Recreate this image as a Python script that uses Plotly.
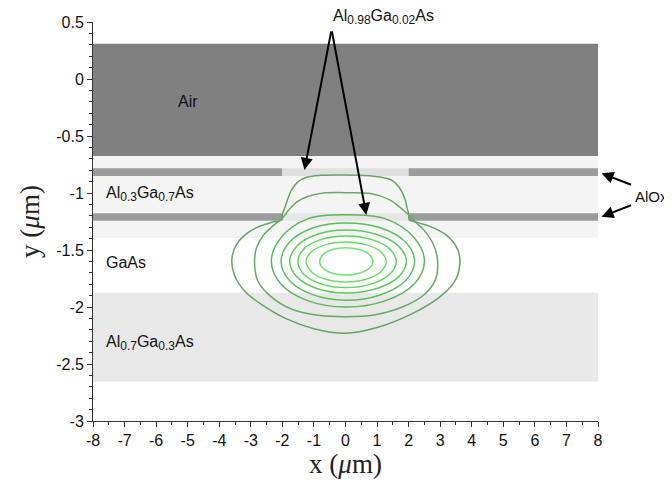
import plotly.graph_objects as go

# ---------------- data ----------------
# axis ticks
x_tick_vals = [-8, -7, -6, -5, -4, -3, -2, -1, 0, 1, 2, 3, 4, 5, 6, 7, 8]
x_tick_text = ["-8", "-7", "-6", "-5", "-4", "-3", "-2", "-1", "0", "1", "2", "3", "4", "5", "6", "7", "8"]
y_tick_vals = [0.5, 0, -0.5, -1, -1.5, -2, -2.5, -3]
y_tick_text = ["0.5", "0", "-0.5", "-1", "-1.5", "-2", "-2.5", "-3"]

# layer structure (x0, x1, y0, y1)
layer_names = ["cladding", "Air", "AlOx top L", "Al0.98 top", "AlOx top R",
               "AlOx bot L", "Al0.98 bot", "AlOx bot R", "Al0.7Ga0.3As"]
layer_x0 = [-8, -8, -8, -2, 2, -8, -2, 2, -8]
layer_x1 = [8, 8, -2, 2, 8, -2, 2, 8, 8]
layer_y0 = [-1.395, -0.675, -0.850, -0.850, -0.850, -1.243, -1.243, -1.243, -2.655]
layer_y1 = [-0.675, 0.310, -0.783, -0.783, -0.783, -1.178, -1.178, -1.178, -1.874]

# mode-field contour lines (outer -> inner)
c1_x = [0, -0.8, -1.2, -1.5, -1.72, -1.85, -1.95, -2.0, -2.02, -2.3, -2.7, -3.1, -3.45, -3.6,
        -3.52, -3.2, -2.7, -1.9, -1.0, 0, 1.0, 2.1, 2.95, 3.45, 3.62, 3.56, 3.2, 2.6, 2.1,
        2.02, 2.0, 1.95, 1.88, 1.7, 1.45, 1.1, 0.6, 0]
c1_y = [-0.842, -0.845, -0.86, -0.90, -0.98, -1.07, -1.15, -1.185, -1.235, -1.255, -1.29, -1.35,
        -1.45, -1.58, -1.72, -1.86, -1.97, -2.10, -2.19, -2.23, -2.18, -2.06, -1.92, -1.78, -1.63,
        -1.50, -1.37, -1.285, -1.245, -1.235, -1.185, -1.13, -1.05, -0.95, -0.885, -0.86, -0.846, -0.842]

c2_x = [0, -0.7, -1.2, -1.55, -1.8, -2.0, -2.3, -2.6, -2.82, -2.88, -2.78, -2.4, -1.7, -0.8, 0,
        0.9, 1.8, 2.5, 2.85, 2.92, 2.8, 2.5, 2.2, 1.95, 1.7, 1.4, 0.8, 0]
c2_y = [-0.997, -1.0, -1.03, -1.08, -1.15, -1.22, -1.29, -1.37, -1.48, -1.62, -1.77, -1.90, -2.02,
        -2.075, -2.085, -2.07, -2.0, -1.89, -1.76, -1.60, -1.46, -1.33, -1.25, -1.18, -1.12, -1.06,
        -1.005, -0.997]

c3_x = [0, -1.18, -2.04, -2.35, -2.04, -1.18, 0, 1.25, 2.17, 2.5, 2.17, 1.25, 0]
c3_y = [-1.19, -1.225, -1.39, -1.60, -1.80, -1.946, -2.00, -1.946, -1.80, -1.60, -1.39, -1.225, -1.19]

c4_x = [0, -1.02, -1.77, -2.04, -1.77, -1.02, 0, 1.1, 1.9, 2.19, 1.9, 1.1, 0]
c4_y = [-1.263, -1.305, -1.43, -1.60, -1.77, -1.894, -1.94, -1.894, -1.77, -1.60, -1.43, -1.305, -1.263]

c5_x = [0, -0.885, -1.53, -1.77, -1.53, -0.885, 0, 0.965, 1.67, 1.93, 1.67, 0.965, 0]
c5_y = [-1.325, -1.362, -1.462, -1.60, -1.738, -1.84, -1.877, -1.84, -1.738, -1.60, -1.462, -1.362, -1.325]

c6_x = [0, -0.755, -1.31, -1.51, -1.31, -0.755, 0, 0.805, 1.39, 1.61, 1.39, 0.805, 0]
c6_y = [-1.377, -1.407, -1.488, -1.60, -1.715, -1.799, -1.83, -1.799, -1.715, -1.60, -1.488, -1.407, -1.377]

c7_x = [0, -0.625, -1.08, -1.25, -1.08, -0.625, 0, 0.645, 1.12, 1.29, 1.12, 0.645, 0]
c7_y = [-1.43, -1.453, -1.515, -1.60, -1.69, -1.756, -1.78, -1.756, -1.69, -1.60, -1.515, -1.453, -1.43]

c8_x = [0, -0.41, -0.71, -0.82, -0.71, -0.41, 0, 0.435, 0.753, 0.87, 0.753, 0.435, 0]
c8_y = [-1.48, -1.496, -1.54, -1.60, -1.66, -1.704, -1.72, -1.704, -1.66, -1.60, -1.54, -1.496, -1.48]

# ---------------- styles ----------------
layer_colors = ["#f4f4f4", "#808080", "#9b9b9b", "#e0e0e0", "#9b9b9b",
                "#9b9b9b", "#e6e6e6", "#9b9b9b", "#e8e8e8"]
contour_colors = ["rgb(100,165,100)", "rgb(100,172,100)", "rgb(92,182,92)", "rgb(88,192,88)",
                  "rgb(92,202,92)", "rgb(98,212,98)", "rgb(104,222,104)", "rgb(112,228,112)"]

fig = go.Figure()

for x0, x1, y0, y1, col in zip(layer_x0, layer_x1, layer_y0, layer_y1, layer_colors):
    fig.add_shape(type="rect", xref="x", yref="y", x0=x0, x1=x1, y0=y0, y1=y1,
                  fillcolor=col, line=dict(width=0), layer="below")

contours = [(c1_x, c1_y), (c2_x, c2_y), (c3_x, c3_y), (c4_x, c4_y),
            (c5_x, c5_y), (c6_x, c6_y), (c7_x, c7_y), (c8_x, c8_y)]
for (cx, cy), col in zip(contours, contour_colors):
    fig.add_trace(go.Scatter(x=cx, y=cy, mode="lines",
                             line=dict(color=col, width=1.5, shape="spline", smoothing=1.0),
                             hoverinfo="skip", showlegend=False))

txt_font = dict(family="Liberation Sans, Arial, sans-serif", size=16, color="#111")


def chem(*parts):
    out = ""
    for i, p in enumerate(parts):
        if i % 2 == 0:
            out += p
        else:
            out += "<sub><span style='font-size:12px'>" + p + "</span></sub>"
    return out


# region labels
fig.add_annotation(x=-5.0, y=-0.2, xref="x", yref="y", text="Air", showarrow=False, font=txt_font)
fig.add_annotation(x=-7.65, y=-1.01, xref="x", yref="y", text=chem("Al", "0.3", "Ga", "0.7", "As"),
                   showarrow=False, xanchor="left", font=txt_font)
fig.add_annotation(x=-7.65, y=-1.61, xref="x", yref="y", text="GaAs",
                   showarrow=False, xanchor="left", font=txt_font)
fig.add_annotation(x=-7.65, y=-2.32, xref="x", yref="y", text=chem("Al", "0.7", "Ga", "0.3", "As"),
                   showarrow=False, xanchor="left", font=txt_font)

# Al0.98Ga0.02As label with two arrows
fig.add_annotation(x=-0.47, y=1.012, xref="x", yref="paper", text=chem("Al", "0.98", "Ga", "0.02", "As"),
                   showarrow=False, xanchor="left", yanchor="middle", font=txt_font)
fig.add_annotation(x=-1.30, y=-0.798, xref="x", yref="y", text="", showarrow=True,
                   ax=27, ay=-140, arrowhead=2, arrowsize=1.2, arrowwidth=2, arrowcolor="#000",
                   standoff=0)
fig.add_annotation(x=0.66, y=-1.193, xref="x", yref="y", text="", showarrow=True,
                   ax=-34.7, ay=-185, arrowhead=2, arrowsize=1.2, arrowwidth=2, arrowcolor="#000",
                   standoff=0)

# AlOx label with two arrows
fig.add_annotation(x=1.069, y=-1.03, xref="paper", yref="y", text="AlOx",
                   showarrow=False, xanchor="left", font=dict(txt_font, size=15))
fig.add_annotation(x=1.007, y=-0.827, xref="paper", yref="y", text="", showarrow=True,
                   ax=31, ay=12, arrowhead=2, arrowsize=1.2, arrowwidth=2, arrowcolor="#000",
                   standoff=0)
fig.add_annotation(x=1.007, y=-1.208, xref="paper", yref="y", text="", showarrow=True,
                   ax=31, ay=-12, arrowhead=2, arrowsize=1.2, arrowwidth=2, arrowcolor="#000",
                   standoff=0)

tick_font = dict(family="Liberation Sans, Arial, sans-serif", size=16, color="#111")
title_font = dict(family="Liberation Serif, DejaVu Serif, serif", size=27, color="#222")

fig.update_xaxes(range=[-8, 8], tickvals=x_tick_vals, ticktext=x_tick_text,
                 showline=True, linecolor="#333", linewidth=1, ticks="outside", ticklen=5,
                 tickcolor="#333", showgrid=False, zeroline=False, tickfont=tick_font,
                 minor=dict(ticks="outside", ticklen=3, dtick=0.5, tickcolor="#333", showgrid=False),
                 title=dict(text="x (<i>μ</i>m)", font=title_font, standoff=4))
fig.update_yaxes(range=[-3, 0.5], tickvals=y_tick_vals, ticktext=y_tick_text,
                 showline=True, linecolor="#333", linewidth=1, ticks="outside", ticklen=5,
                 tickcolor="#333", showgrid=False, zeroline=False, tickfont=tick_font,
                 minor=dict(ticks="outside", ticklen=3, dtick=0.1, tickcolor="#333", showgrid=False),
                 title=dict(text="y (<i>μ</i>m)", font=title_font, standoff=8))

# page body has an 8px margin, so the figure is sized/offset to land the plot area where the reference has it
fig.update_layout(width=664, height=479,
                  margin=dict(l=85, r=74, t=14, b=66, autoexpand=False),
                  plot_bgcolor="white", paper_bgcolor="white", showlegend=False)

fig.write_html("out.html")
